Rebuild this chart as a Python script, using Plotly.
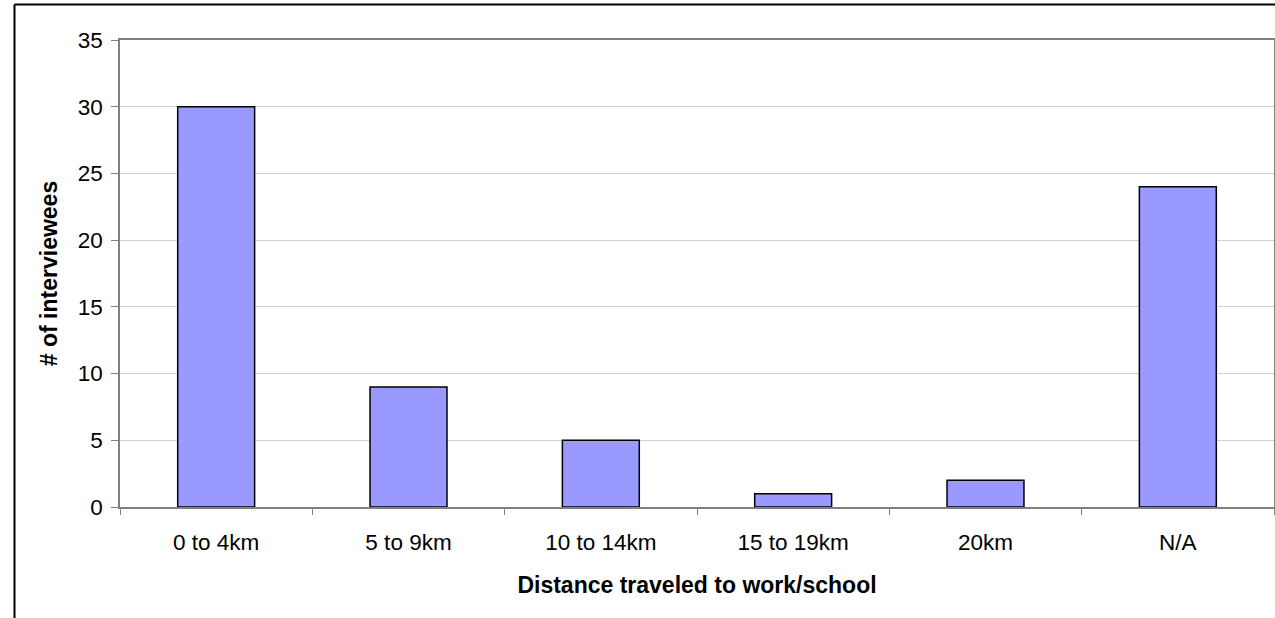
import plotly.graph_objects as go

categories = ["0 to 4km", "5 to 9km", "10 to 14km", "15 to 19km", "20km", "N/A"]
interviewees = [30, 9, 5, 1, 2, 24]
y_ticks = [0, 5, 10, 15, 20, 25, 30, 35]

W, H = 1275, 618
ML, MR, MT, MB = 120, 1, 40, 111
pw = W - ML - MR
ph = H - MT - MB

def px_x(p):
    return (p - ML) / pw

def px_y(p):
    return (H - MB - p) / ph

fig = go.Figure()
fig.add_trace(go.Bar(
    x=categories, y=interviewees,
    marker=dict(color="#9999FF", line=dict(color="#000000", width=1.5)),
))

font = dict(family="Liberation Sans, Arial, sans-serif", color="#000000")

fig.update_layout(
    width=W, height=H,
    margin=dict(l=ML, r=MR, t=MT, b=MB),
    paper_bgcolor="#FFFFFF", plot_bgcolor="#FFFFFF",
    bargap=0.6,
    showlegend=False,
    font=dict(size=22, **font),
    xaxis=dict(
        type="category",
        tickson="boundaries",
        ticks="outside", ticklen=6, tickcolor="#808080", tickwidth=1,
        ticklabelstandoff=14,
        showline=True, linecolor="#808080", linewidth=1.5, mirror=True,
        showgrid=False,
        tickfont=dict(size=22.5, **font),
        title=dict(text="<b>Distance traveled to work/school</b>",
                   font=dict(size=23, **font), standoff=23),
        automargin=False,
    ),
    yaxis=dict(
        range=[0, 35],
        tickvals=y_ticks,
        ticks="outside", ticklen=7, tickcolor="#808080", tickwidth=1,
        ticklabelstandoff=4,
        showline=True, linecolor="#808080", linewidth=1.5, mirror=True,
        showgrid=True, gridcolor="#D0D0D0", gridwidth=1,
        zeroline=False,
        tickfont=dict(size=22.5, **font),
        title=dict(text="<b># of interviewees</b>",
                   font=dict(size=23, **font), standoff=14),
        automargin=False,
    ),
)

# outer chart border (cropped at right and bottom)
bx, by = px_x(14.5), px_y(4.5)
fig.add_shape(type="line", xref="paper", yref="paper",
              x0=bx, x1=bx, y0=px_y(H + 20), y1=by,
              line=dict(color="#000000", width=2))
fig.add_shape(type="line", xref="paper", yref="paper",
              x0=bx, x1=px_x(W + 20), y0=by, y1=by,
              line=dict(color="#000000", width=2))

fig.write_html("out.html",
               config={"displayModeBar": False},
               post_script="document.body.style.margin='0';document.body.style.overflow='hidden';")
